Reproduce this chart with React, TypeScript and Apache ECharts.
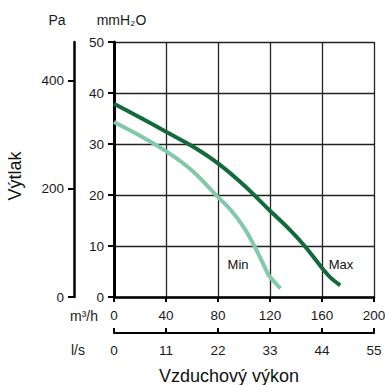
import React, { useEffect, useRef } from "react";
import * as echarts from "echarts";

// Airflow in m³/h and pressure in mmH₂O
const maxFlow = [0, 20, 40, 60, 80, 100, 120, 134, 147, 160, 167, 174];
const maxPressure = [37.9, 35.2, 32.4, 29.6, 26.2, 21.9, 16.9, 13.5, 9.9, 5.7, 3.7, 2.3];
const minFlow = [0, 20, 40, 60, 80, 90, 100, 108, 114, 119, 124, 128];
const minPressure = [34.3, 31.6, 28.6, 24.8, 19.6, 17.0, 13.6, 10.0, 6.9, 4.3, 2.8, 1.7];

const seriesNames = ["Max", "Min"];
const seriesLabelAt = [
  [174.6, 6.3],
  [95.4, 6.3],
];

const paTicks = [0, 200, 400];
const paMax = 472;
const flowTicksLs = [0, 11, 22, 33, 44, 55];

const FONT = "'Liberation Sans', Arial, Helvetica, sans-serif";
const TXT = "#1a1a1a";

export default function App() {
  const ref = useRef<HTMLDivElement>(null);

  useEffect(() => {
    if (!ref.current) return;
    const chart = echarts.init(ref.current, undefined, { renderer: "svg" });

    const maxData = maxFlow.map((x, i) => [x, maxPressure[i]]);
    const minData = minFlow.map((x, i) => [x, minPressure[i]]);

    const gridLine = { show: true, lineStyle: { color: "#222", width: 1.3 } };

    chart.setOption({
      animation: false,
      textStyle: { fontFamily: FONT },
      grid: { left: 114, right: 11, top: 42, bottom: 88, outerBoundsMode: "none" },
      xAxis: [
        {
          type: "value",
          min: 0,
          max: 200,
          interval: 40,
          position: "bottom",
          name: "m³/h",
          nameLocation: "start",
          nameGap: 16,
          nameTextStyle: { fontSize: 14, color: TXT, verticalAlign: "top", padding: [12, 0, 0, 0], fontFamily: FONT },
          axisLine: { show: true, onZero: false, lineStyle: { color: "#000", width: 2.5 } },
          axisTick: { show: true, length: 5, lineStyle: { color: "#000", width: 2 } },
          axisLabel: { fontSize: 13.5, color: TXT, margin: 11, fontFamily: FONT },
          splitLine: gridLine,
        },
        {
          type: "value",
          min: 0,
          max: 55,
          interval: 11,
          position: "bottom",
          offset: 36,
          name: "l/s",
          nameLocation: "start",
          nameGap: 29,
          nameTextStyle: { fontSize: 14, color: TXT, verticalAlign: "top", padding: [10, 0, 0, 0], fontFamily: FONT },
          axisLine: { show: true, onZero: false, lineStyle: { color: "#000", width: 2.2 } },
          axisTick: { show: true, inside: true, length: 5, lineStyle: { color: "#000", width: 2 } },
          axisLabel: {
            fontSize: 13.5,
            color: TXT,
            margin: 10,
            fontFamily: FONT,
            customValues: flowTicksLs,
          },
          splitLine: { show: false },
        },
      ],
      yAxis: [
        {
          type: "value",
          min: 0,
          max: 50,
          interval: 10,
          position: "left",
          name: "mmH₂O",
          nameLocation: "end",
          nameGap: 15,
          nameTextStyle: { fontSize: 14, color: TXT, align: "center", padding: [0, 0, 0, 15], fontFamily: FONT },
          axisLine: { show: true, onZero: false, lineStyle: { color: "#000", width: 3 } },
          axisTick: { show: true, length: 6, lineStyle: { color: "#000", width: 2 } },
          axisLabel: { fontSize: 13.5, color: TXT, margin: 10, fontFamily: FONT },
          splitLine: gridLine,
        },
        {
          type: "value",
          min: 0,
          max: paMax,
          position: "left",
          offset: 40,
          name: "Pa",
          nameLocation: "end",
          nameGap: 15,
          nameTextStyle: { fontSize: 14, color: TXT, align: "center", padding: [0, 34, 0, 0], fontFamily: FONT },
          axisLine: { show: true, onZero: false, lineStyle: { color: "#000", width: 2.5 } },
          axisTick: { show: true, length: 6, customValues: paTicks, lineStyle: { color: "#000", width: 2 } },
          axisLabel: { fontSize: 13.5, color: TXT, margin: 10, fontFamily: FONT, customValues: paTicks },
          splitLine: { show: false },
        },
      ],
      graphic: [
        {
          type: "text",
          x: 15,
          y: 176,
          rotation: Math.PI / 2,
          style: { text: "Výtlak", fontSize: 18, fill: "#111", align: "center", verticalAlign: "middle", fontFamily: FONT },
        },
        {
          type: "text",
          x: 229,
          y: 376,
          style: { text: "Vzduchový výkon", fontSize: 18, fill: "#111", align: "center", verticalAlign: "middle", fontFamily: FONT },
        },
      ],
      series: [
        {
          name: seriesNames[0],
          type: "line",
          xAxisIndex: 0,
          yAxisIndex: 0,
          data: maxData,
          smooth: 0.3,
          showSymbol: false,
          lineStyle: { color: "#136a3b", width: 4 },
          itemStyle: { color: "#136a3b" },
          markPoint: {
            symbolSize: 0,
            data: [{ coord: seriesLabelAt[0], value: seriesNames[0] }],
            label: { show: true, position: "inside", formatter: seriesNames[0], color: "#111", fontSize: 13, fontFamily: FONT },
          },
        },
        {
          name: seriesNames[1],
          type: "line",
          xAxisIndex: 0,
          yAxisIndex: 0,
          data: minData,
          smooth: 0.3,
          showSymbol: false,
          lineStyle: { color: "#80c9a9", width: 4 },
          itemStyle: { color: "#80c9a9" },
          markPoint: {
            symbolSize: 0,
            data: [{ coord: seriesLabelAt[1], value: seriesNames[1] }],
            label: { show: true, position: "inside", formatter: seriesNames[1], color: "#111", fontSize: 13, fontFamily: FONT },
          },
        },
      ],
    });

    return () => chart.dispose();
  }, []);

  return (
    <div
      ref={ref}
      style={{ position: "fixed", left: 0, top: 0, width: 385, height: 385, background: "#fff" }}
    />
  );
}
